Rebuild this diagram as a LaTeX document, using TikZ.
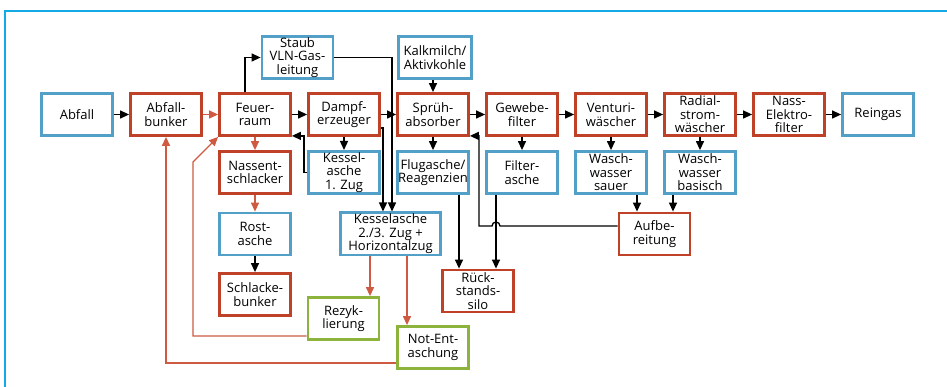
\documentclass[tikz,border=0pt]{standalone}
\usepackage{fontspec}
\setsansfont{Open Sans}
\usepackage{xcolor}
\usepackage{tikz}
\usetikzlibrary{arrows.meta,calc}
\definecolor{boxred}{RGB}{190,65,40}
\definecolor{boxblue}{RGB}{82,160,200}
\definecolor{boxgreen}{RGB}{140,180,60}
\definecolor{linered}{RGB}{205,90,65}
\definecolor{framecyan}{RGB}{20,170,230}

\begin{document}
\begin{tikzpicture}[
  x=1pt, y=-1pt,
  font=\sffamily\fontsize{13}{13.6}\selectfont,
  box/.style={draw, line width=2.8pt, fill=white, align=center, inner sep=1pt, minimum width=71pt, minimum height=42pt},
  rbox/.style={box, draw=boxred},
  bbox/.style={box, draw=boxblue},
  gbox/.style={box, draw=boxgreen},
  arr/.style={-{Triangle[length=9pt,width=8pt]}, line width=1.3pt, black},
  rarr/.style={-{Triangle[length=9pt,width=8pt]}, line width=1.3pt, linered},
  frame/.style={draw=framecyan, line width=1.5pt}
]
\useasboundingbox (0,0) rectangle (947,387);
\draw[frame] (947,11) -- (5,11) -- (5,387);

% main gas path
\node[bbox] (abfall) at (77,114.5) {Abfall};
\node[rbox] (bunker) at (166,114.5) {Abfall-\\bunker};
\node[rbox] (feuer) at (255,114.5) {Feuer-\\raum};
\node[rbox] (dampf) at (344,114.5) {Dampf-\\erzeuger};
\node[rbox] (spruh) at (433,114.5) {Sprüh-\\absorber};
\node[rbox] (gewebe) at (522,114.5) {Gewebe-\\filter};
\node[rbox] (venturi) at (611,114.5) {Venturi-\\wäscher};
\node[rbox] (radial) at (700,114.5) {Radial-\\strom-\\wäscher};
\node[rbox] (nass) at (789,114.5) {Nass-\\Elektro-\\filter};
\node[bbox] (rein) at (878,114.5) {Reingas};

\node[bbox] (staub) at (297.5,57.5) {Staub\\VLN-Gas-\\leitung};
\node[bbox, minimum width=73pt] (kalk) at (435,57.5) {Kalkmilch/\\Aktivkohle};

% residues
\node[rbox] (nassent) at (255,172.5) {Nassent-\\schlacker};
\node[bbox] (kessel1) at (344,172.5) {Kessel-\\asche\\1. Zug};
\node[bbox] (flug) at (433,172.5) {Flugasche/\\Reagenzien};
\node[bbox] (filter) at (522,172.5) {Filter-\\asche};
\node[bbox] (wss) at (611,172.5) {Wasch-\\wasser\\sauer};
\node[bbox] (wsb) at (700,172.5) {Wasch-\\wasser\\basisch};

\node[bbox] (rost) at (255,234) {Rost-\\asche};
\node[rbox] (schlacke) at (255,294.5) {Schlacke-\\bunker};
\node[bbox, minimum width=100pt] (kessel2) at (390.5,234) {Kesselasche\\2./3. Zug +\\Horizontalzug};
\node[gbox] (rezyk) at (343.5,318.5) {Rezyk-\\lierung};
\node[gbox] (notent) at (433,347.5) {Not-Ent-\\aschung};
\node[rbox] (silo) at (478,291) {Rück-\\stands-\\silo};
\node[rbox] (aufb) at (654.5,234) {Aufbe-\\reitung};

\foreach \a/\b in {abfall/bunker,feuer/dampf,dampf/spruh,spruh/gewebe,gewebe/venturi,venturi/radial,radial/nass,nass/rein}
  \draw[arr] (\a) -- (\b);
\draw[rarr] (bunker) -- (feuer);
\foreach \a/\b in {dampf/kessel1,spruh/flug,gewebe/filter,venturi/wss,radial/wsb,rost/schlacke}
  \draw[arr] (\a) -- (\b);
\draw[rarr] (feuer) -- (nassent);
\draw[rarr] (nassent) -- (rost);

\draw[arr] ($(feuer.north)+(-10,0)$) |- (staub.west);
\draw[arr] (staub.east) -| ($(kessel2.north)+(1.5,0)$);
\draw[arr] ($(dampf.east)+(0,13.5)$) -| ($(kessel2.north)+(-7.5,0)$);
\draw[arr] (kalk.south -| spruh.north) -- (spruh.north);
\draw[arr] (kessel1.west) -- ++(-3,0) |- ($(feuer.south east)+(0,-1)$);

% ash to silo, water to treatment
\coordinate (fx) at ($(filter.south)+(-26,0)$);
\coordinate (fl) at ($(flug.south)+(26,0)$);
\draw[arr] (fx) -- (fx |- silo.north);
\draw[arr] (fl) -- (fl |- silo.north);
\coordinate (sa) at ($(wss.south)+(26,0)$);
\coordinate (ba) at ($(wsb.south)+(-27,0)$);
\draw[arr] (sa) -- (sa |- aufb.north);
\draw[arr] (ba) -- (ba |- aufb.north);
\coordinate (ay) at ($(aufb.west)+(0,-8)$);
\draw[arr] (ay) -- ($(ay -| fx)+(4,0)$) arc[start angle=0, end angle=180, radius=4pt]
  -- ($(ay -| fx)+(-17,0)$) |- ($(spruh.south east)+(0,-1)$);

% recycling
\coordinate (k2a) at ($(kessel2.south)+(-20.5,0)$);
\coordinate (k2b) at ($(kessel2.south)+(16.5,0)$);
\draw[rarr] (k2a) -- (k2a |- rezyk.north);
\draw[rarr] (k2b) -- (k2b |- notent.north);
\coordinate (rk) at (193,162);
\draw[rarr] ($(rezyk.west)+(0,17.5)$) -| (rk) -- (feuer.south west);
\draw[rarr] ($(notent.west)+(0,15.5)$) -| (bunker.south);
\end{tikzpicture}
\end{document}
